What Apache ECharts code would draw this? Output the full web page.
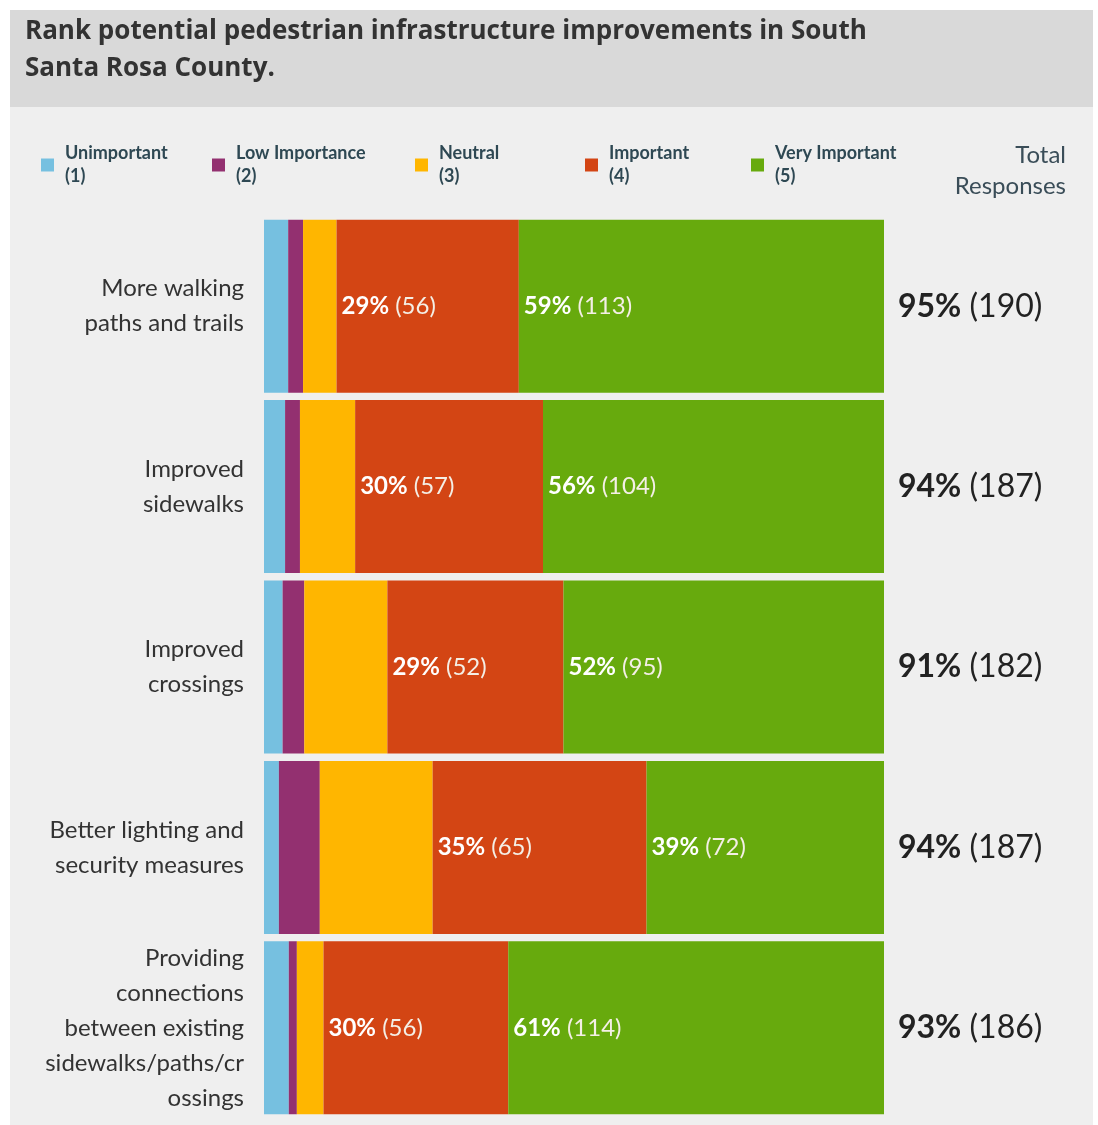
<!DOCTYPE html>
<html>
<head>
<meta charset="utf-8">
<title>Pedestrian infrastructure</title>
<script src="https://cdn.jsdelivr.net/npm/echarts@6/dist/echarts.min.js"></script>
<style>
    html, body { margin: 0; padding: 0; background: #ffffff; }
    #container { width: 1098px; height: 1125px; }
</style>
</head>
<body>
<div id="container"></div>
<script>
// data
var categories = [
    'More walking\npaths and trails',
    'Improved\nsidewalks',
    'Improved\ncrossings',
    'Better lighting and\nsecurity measures',
    'Providing\nconnections\nbetween existing\nsidewalks/paths/cr\nossings'
];
var levels = ['Unimportant', 'Low Importance', 'Neutral', 'Important', 'Very Important'];
var levelNums = ['(1)', '(2)', '(3)', '(4)', '(5)'];
var colors = ['#76c0e0', '#933070', '#ffb600', '#d34514', '#67aa0d'];

// share of each answer per row, in percent
var unimportant   = [3.9, 3.4, 3.0, 2.4, 4.0];
var lowImportance = [2.4, 2.4, 3.5, 6.6, 1.3];
var neutral       = [5.4, 8.9, 13.4, 18.2, 4.3];
var important     = [29.4, 30.3, 28.4, 34.5, 29.8];
var veryImportant = [58.9, 55.0, 51.7, 38.3, 60.6];

// printed labels
var importantPct   = ['29%', '30%', '29%', '35%', '30%'];
var importantCnt   = ['(56)', '(57)', '(52)', '(65)', '(56)'];
var veryPct        = ['59%', '56%', '52%', '39%', '61%'];
var veryCnt        = ['(113)', '(104)', '(95)', '(72)', '(114)'];
var totalPct       = ['95%', '94%', '91%', '94%', '93%'];
var totalCnt       = ['(190)', '(187)', '(182)', '(187)', '(186)'];

var FONT = 'Lato, "Open Sans", sans-serif';

var dom = document.getElementById("container");
var myChart = echarts.init(dom);

var seriesData = [unimportant, lowImportance, neutral, important, veryImportant];
var labelPct = [null, null, null, importantPct, veryPct];
var labelCnt = [null, null, null, importantCnt, veryCnt];

var series = [];
for (var i = 0; i < levels.length; i++) {
    var s = {
        name: levels[i],
        type: 'bar',
        stack: 'all',
        barWidth: 173,
        data: seriesData[i],
        itemStyle: { color: colors[i] },
        emphasis: { disabled: true },
        label: { show: false }
    };
    if (labelPct[i]) {
        (function (pct, cnt) {
            s.label = {
                show: true,
                position: 'insideLeft',
                distance: 5,
                formatter: function (p) {
                    return '{b|' + pct[p.dataIndex] + '}{n| ' + cnt[p.dataIndex] + '}';
                },
                rich: {
                    b: { fontFamily: FONT, fontSize: 24, fontWeight: 'bold', color: '#ffffff' },
                    n: { fontFamily: FONT, fontSize: 24, color: '#f4efe6' }
                }
            };
        })(labelPct[i], labelCnt[i]);
    }
    series.push(s);
}

// one legend per item, they sit in uneven columns
var legendLeft = [36, 207, 410, 580, 746];
var legends = [];
for (var j = 0; j < levels.length; j++) {
    legends.push({
        data: [levels[j]],
        left: legendLeft[j],
        top: 137,
        icon: 'rect',
        itemWidth: 13,
        itemHeight: 13,
        selectedMode: false,
        formatter: (function (k) {
            return function (name) { return name + '\n' + levelNums[k]; };
        })(j),
        textStyle: {
            fontFamily: FONT,
            fontSize: 18,
            fontWeight: 'bold',
            color: '#2e4853',
            lineHeight: 23,
            padding: [0, 0, 0, 6]
        }
    });
}

option = {
    backgroundColor: '#ffffff',
    animation: false,
    graphic: [
        { type: 'rect', shape: { x: 10, y: 107, width: 1083, height: 1018 }, style: { fill: '#efefef' }, z: -10 },
        { type: 'rect', shape: { x: 10, y: 10, width: 1083, height: 97 }, style: { fill: '#d9d9d9' }, z: -10 },
        {
            type: 'text', left: 25, top: 13,
            style: {
                text: 'Rank potential pedestrian infrastructure improvements in South\nSanta Rosa County.',
                font: 'bold 26px "Open Sans", sans-serif',
                fill: '#333333',
                lineHeight: 37
            }
        },
        {
            type: 'text', x: 1066, y: 140,
            style: {
                text: 'Total\nResponses',
                font: '24px ' + FONT,
                fill: '#3a4d58',
                lineHeight: 31,
                align: 'right'
            }
        }
    ],
    legend: legends,
    grid: { left: 264, right: 214, top: 216, height: 902 },
    xAxis: { type: 'value', min: 0, max: 100, show: false },
    yAxis: [{
        type: 'category',
        inverse: true,
        data: categories,
        axisLine: { show: false },
        axisTick: { show: false },
        axisLabel: {
            margin: 20,
            fontFamily: FONT,
            fontSize: 24,
            color: '#333333',
            lineHeight: 35,
            align: 'right'
        }
    }, {
        type: 'category',
        position: 'right',
        inverse: true,
        data: categories,
        axisLine: { show: false },
        axisTick: { show: false },
        axisLabel: {
            margin: 14,
            formatter: function (v, idx) {
                return '{b|' + totalPct[idx] + '}{n| ' + totalCnt[idx] + '}';
            },
            rich: {
                b: { fontFamily: FONT, fontSize: 32, fontWeight: 'bold', color: '#222222' },
                n: { fontFamily: FONT, fontSize: 32, color: '#222222' }
            }
        }
    }],
    series: series
};

if (option && typeof option === "object") {
    myChart.setOption(option, true);
}
</script>
</body>
</html>
